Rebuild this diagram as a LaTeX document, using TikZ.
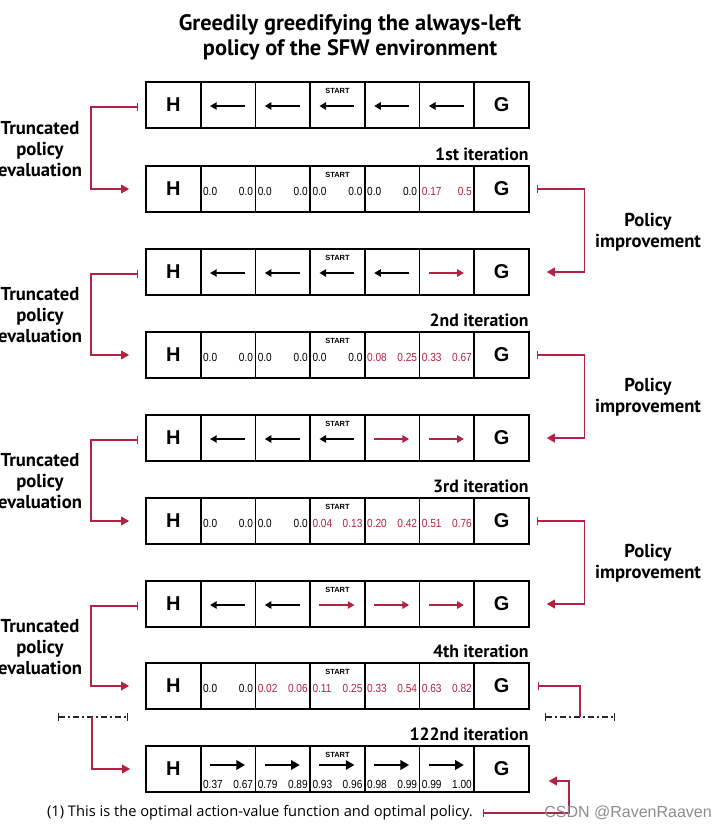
\documentclass[tikz,border=0pt]{standalone}
\usepackage{fontspec}
\setmainfont{PT Sans}
\newfontfamily\cellfont{Liberation Sans}
\newfontfamily\numfont[FakeStretch=0.86]{Liberation Sans}
\newfontfamily\notefont{Open Sans}
\usetikzlibrary{arrows.meta}
\definecolor{loopred}{RGB}{178,34,66}
\tikzset{
  cellbox/.style={draw, line width=1.3pt, minimum width=41.0pt, minimum height=34.5pt,
                  inner sep=0pt, font=\cellfont\bfseries\fontsize{15}{15}\selectfont},
  starttext/.style={inner sep=0pt, font=\cellfont\bfseries\fontsize{5.6}{6}\selectfont},
  valtext/.style={inner sep=0pt, font=\numfont\fontsize{8.8}{9}\selectfont},
  pl/.style={line width=1.4pt, {Triangle[length=5pt,width=5.5pt]}-},
  pr/.style={line width=1.4pt, loopred, -{Triangle[length=5pt,width=5.5pt]}},
  pf/.style={line width=1.7pt, -{Triangle[length=6.5pt,width=7pt]}},
  titletext/.style={align=center, font=\bfseries\fontsize{16.8}{18.75}\selectfont},
  sidetext/.style={align=center, font=\bfseries\fontsize{14}{15.75}\selectfont},
  itertext/.style={inner sep=0pt, font=\bfseries\fontsize{13.3}{14}\selectfont},
  loopline/.style={draw=loopred, line width=1.1pt},
  loopfeed/.style={loopline, {Bar[width=6pt]}-{Triangle[length=6pt,width=6.5pt]}},
  looptail/.style={loopline, {Bar[width=6pt]}-},
  loophead/.style={loopline, -{Triangle[length=6pt,width=6.5pt]}},
  skipline/.style={draw=black!85, line width=1pt, dash pattern=on 4.5pt off 2.5pt on 1pt off 2.5pt,
                   {Bar[width=6pt]}-{Bar[width=6pt]}},
  notetext/.style={inner sep=0pt, font=\notefont\fontsize{11}{12}\selectfont},
  watermark/.style={inner sep=0pt, text=black!45, font=\cellfont\fontsize{12}{12}\selectfont}
}
\begin{document}
\begin{tikzpicture}[x=0.75pt, y=-0.75pt]
\useasboundingbox (0,0) rectangle (727,831);
% Title
\node[titletext] (title) at (350,37) {Greedily greedifying the always-left\\policy of the SFW environment};
% Grid rows, one per step
\foreach \r/\t in {1/82,2/166,3/249,4/332,5/415,6/498,7/581,8/663,9/746} {
  \foreach \c/\txt in {0/H,1/,2/,3/,4/,5/,6/G}
    \node[cellbox] (c\r-\c) at (173.35+54.7*\c, \t+23) {\txt};
  \node[starttext] (start\r) at ([shift={(0,10)}]c\r-3.north) {START};
}
% Policies (arrows)
\foreach \r/\dy/\acts in {1/1/{pl,pl,pl,pl,pl}, 3/1/{pl,pl,pl,pl,pr}, 5/1/{pl,pl,pl,pr,pr},
                          7/1/{pl,pl,pr,pr,pr}, 9/-4/{pf,pf,pf,pf,pf}}
  \foreach \st [count=\c] in \acts
    \draw[\st] ([shift={(-18,\dy)}]c\r-\c.center) -- ([shift={(17,\dy)}]c\r-\c.center);
% Action values
\foreach \r/\dy/\vals in {
    2/2/{0.0/0.0/black, 0.0/0.0/black, 0.0/0.0/black, 0.0/0.0/black, 0.17/0.5/loopred},
    4/2/{0.0/0.0/black, 0.0/0.0/black, 0.0/0.0/black, 0.08/0.25/loopred, 0.33/0.67/loopred},
    6/2/{0.0/0.0/black, 0.0/0.0/black, 0.04/0.13/loopred, 0.20/0.42/loopred, 0.51/0.76/loopred},
    8/2/{0.0/0.0/black, 0.02/0.06/loopred, 0.11/0.25/loopred, 0.33/0.54/loopred, 0.63/0.82/loopred},
    9/15/{0.37/0.67/black, 0.79/0.89/black, 0.93/0.96/black, 0.98/0.99/black, 0.99/1.00/black}}
  \foreach \a/\b/\col [count=\c] in \vals {
    \node[valtext, text=\col, anchor=west] at ([shift={(3,\dy)}]c\r-\c.west) {\a};
    \node[valtext, text=\col, anchor=east] at ([shift={(-3,\dy)}]c\r-\c.east) {\b};
  }
% Iteration labels
\foreach \r/\txt in {2/1st, 4/2nd, 6/3rd, 8/4th, 9/122nd}
  \node[itertext, anchor=east] (iter\r) at ([shift={(-1,-11)}]c\r-6.north east) {\txt{} iteration};
% Truncated policy evaluation
\foreach \a/\b/\y in {1/2/149, 3/4/315, 5/6/481, 7/8/647} {
  \node[sidetext] (eval\a) at (40,\y) {Truncated\\policy\\evaluation};
  \draw[loopfeed] ([shift={(-7,2)}]c\a-0.west) -- ++(-47,0) |- ([shift={(-16,0)}]c\b-0.west);
}
% Policy improvement
\foreach \a/\b/\y in {2/3/232, 4/5/397, 6/7/563} {
  \node[sidetext] (impr\a) at (648,\y) {Policy\\improvement};
  \draw[loopfeed] ([shift={(7,0)}]c\a-6.east) -- ++(48,0) |- ([shift={(17,0)}]c\b-6.east);
}
% Skipped iterations
\coordinate (skipL) at (92,717);
\coordinate (skipR) at (580,717);
\draw[skipline] (58,717) -- (128,717);
\draw[skipline] (545,717) -- (615,717);
\draw[loophead] (skipL) |- ([shift={(-15,0)}]c9-0.west);
\draw[looptail] ([shift={(8,0)}]c8-6.east) -| (skipR);
% Footnote
\node[notetext, anchor=east] (note) at (473,813) {(1) This is the optimal action-value function and optimal policy.};
\coordinate (noteturn) at (569,781);
\draw[loopfeed] ([shift={(10,0)}]note.east) -| (noteturn) -- ([shift={(19,12)}]c9-6.east);
\node[watermark, anchor=east] (mark) at (712,813) {CSDN @RavenRaaven};
\end{tikzpicture}
\end{document}
